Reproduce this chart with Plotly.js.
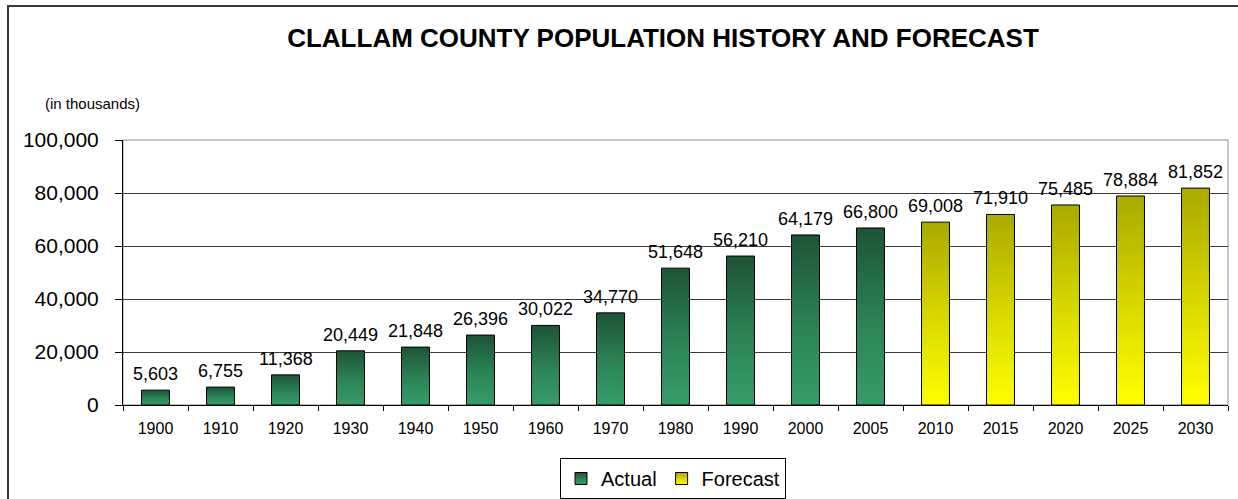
<!DOCTYPE html>
<html>
<head>
<meta charset="utf-8">
<script src="https://cdn.plot.ly/plotly-3.0.1.min.js"></script>
<style>
  html, body { margin: 0; padding: 0; background: #fff; overflow: hidden; }
  #chart { position: absolute; left: 0; top: 0; width: 1238px; height: 499px; }
  #frame { position: absolute; left: 7px; top: 5px; width: 1400px; height: 700px;
           border: 2px solid #3a3a3a; pointer-events: none; }
</style>
</head>
<body>
<div id="chart"></div>
<div id="frame"></div>
<script>
// ---- data ----
const actualYears = ['1900','1910','1920','1930','1940','1950','1960','1970','1980','1990','2000','2005'];
const actualValues = [5603, 6755, 11368, 20449, 21848, 26396, 30022, 34770, 51648, 56210, 64179, 66800];
const forecastYears = ['2010','2015','2020','2025','2030'];
const forecastValues = [69008, 71910, 75485, 78884, 81852];
const yTicks = [0, 20000, 40000, 60000, 80000, 100000];

const FONT = 'Liberation Sans, Arial, sans-serif';
const fmt = v => v.toLocaleString('en-US');
const allYears = actualYears.concat(forecastYears);

const traces = [
  {
    type: 'bar', name: 'Actual', x: actualYears, y: actualValues,
    marker: { color: '#2e7d55', line: { color: '#000', width: 1 } },
    hoverinfo: 'none'
  },
  {
    type: 'bar', name: 'Forecast', x: forecastYears, y: forecastValues,
    marker: { color: '#e0e000', line: { color: '#000', width: 1 } },
    hoverinfo: 'none'
  }
];

const annotations = [];
function addLabels(cats, vals) {
  cats.forEach((c, i) => annotations.push({
    x: allYears.indexOf(c), y: vals[i], xref: 'x', yref: 'y', text: fmt(vals[i]),
    showarrow: false, yanchor: 'bottom', yshift: 4, font: { family: FONT, size: 18, color: '#000' }
  }));
}
addLabels(actualYears, actualValues);
addLabels(forecastYears, forecastValues);
annotations.push({
  xref: 'paper', yref: 'paper', x: -0.0724, y: 1.136, xanchor: 'left', yanchor: 'middle',
  text: '(in thousands)', showarrow: false, font: { family: FONT, size: 15, color: '#000' }
});

const layout = {
  width: 1238, height: 499,
  margin: { l: 123, r: 10, t: 140, b: 94 },
  paper_bgcolor: 'rgba(0,0,0,0)', plot_bgcolor: '#fff',
  font: { family: FONT, color: '#000' },
  title: {
    text: '<b>CLALLAM COUNTY POPULATION HISTORY AND FORECAST</b>',
    font: { family: FONT, size: 26, color: '#000' },
    x: 663 / 1238, xanchor: 'center', y: 1 - 38 / 499, yanchor: 'middle'
  },
  barmode: 'overlay', bargap: 0.57,
  showlegend: true,
  legend: {
    orientation: 'h', xref: 'container', yref: 'container',
    x: 673 / 1238, xanchor: 'center', y: 1 - 458 / 499, yanchor: 'top',
    bordercolor: '#000', borderwidth: 1, bgcolor: '#fff',
    font: { family: FONT, size: 20, color: '#000' },
    itemwidth: 30, traceorder: 'normal', tracegroupgap: 0
  },
  xaxis: {
    type: 'category', categoryorder: 'array', categoryarray: allYears,
    autorange: false, range: [-0.5, allYears.length - 0.5],
    showline: true, linecolor: '#000', linewidth: 1,
    ticks: 'outside', tickson: 'boundaries', ticklen: 5, tickcolor: '#000',
    tickfont: { family: FONT, size: 16, color: '#000' }, ticklabelstandoff: 9, tickangle: 0,
    showgrid: false, zeroline: false, fixedrange: true
  },
  yaxis: {
    autorange: false, range: [0, 100000], tickvals: yTicks, ticktext: yTicks.map(fmt),
    showline: true, linecolor: '#000', linewidth: 1,
    ticks: 'outside', ticklen: 7, tickcolor: '#000',
    tickfont: { family: FONT, size: 21, color: '#000' }, ticklabelstandoff: 12,
    showgrid: true, gridcolor: '#3c3c3c', gridwidth: 1, zeroline: false, fixedrange: true
  },
  shapes: [{
    type: 'rect', xref: 'paper', yref: 'paper', x0: 0, x1: 1, y0: 0, y1: 1,
    line: { color: '#8c8c8c', width: 1 }, layer: 'below'
  }],
  annotations: annotations
};

Plotly.newPlot('chart', traces, layout, { staticPlot: true, displayModeBar: false }).then(gd => {
  const svg = gd.querySelector('svg.main-svg');
  const NS = 'http://www.w3.org/2000/svg';
  let defs = svg.querySelector('defs');
  if (!defs) { defs = document.createElementNS(NS, 'defs'); svg.insertBefore(defs, svg.firstChild); }
  function grad(id, stops) {
    const g = document.createElementNS(NS, 'linearGradient');
    g.setAttribute('id', id);
    g.setAttribute('x1', '0'); g.setAttribute('y1', '0');
    g.setAttribute('x2', '0'); g.setAttribute('y2', '1');
    stops.forEach(([o, c]) => {
      const s = document.createElementNS(NS, 'stop');
      s.setAttribute('offset', o); s.setAttribute('stop-color', c);
      g.appendChild(s);
    });
    defs.appendChild(g);
  }
  grad('gradActual', [[0, '#1d5436'], [0.55, '#2c8456'], [1, '#379c6a']]);
  grad('gradForecast', [[0, '#a9a900'], [0.5, '#d6d600'], [1, '#ffff00']]);
  const ids = ['gradActual', 'gradForecast'];
  gd.querySelectorAll('.barlayer .trace').forEach((t, i) => {
    t.querySelectorAll('path').forEach(p => { p.style.fill = 'url(#' + ids[i] + ')'; });
  });
  gd.querySelectorAll('.legend .traces').forEach((t, i) => {
    t.querySelectorAll('.legendpoints path').forEach(p => { p.style.fill = 'url(#' + ids[i] + ')'; });
  });
});
</script>
</body>
</html>
